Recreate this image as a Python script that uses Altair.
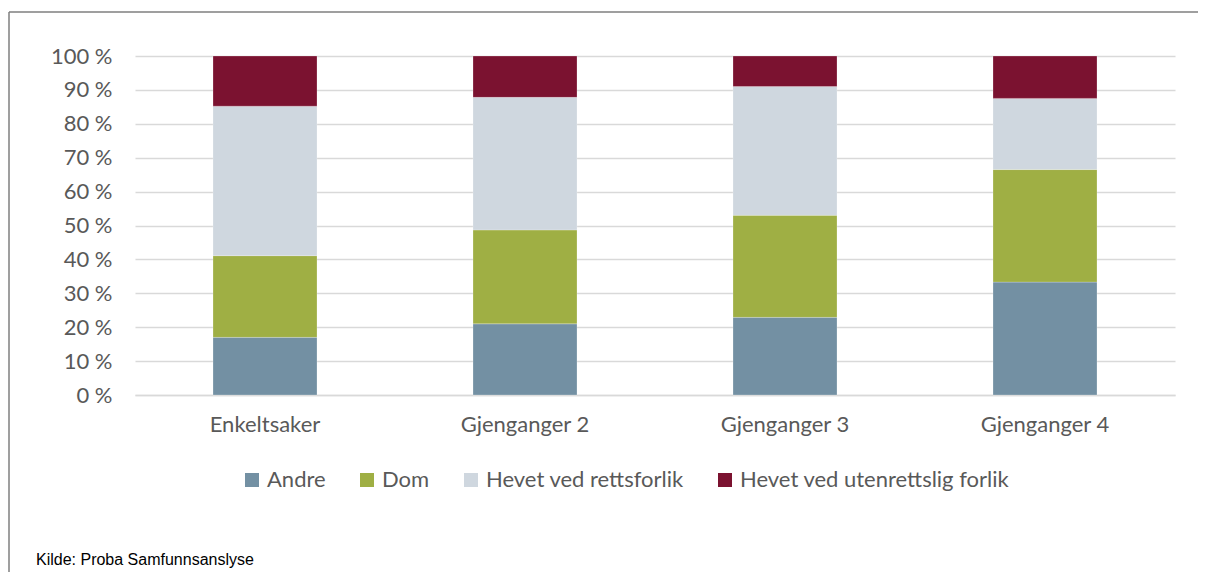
import altair as alt
import pandas as pd

categories = ["Enkeltsaker", "Gjenganger 2", "Gjenganger 3", "Gjenganger 4"]
series = ["Andre", "Dom", "Hevet ved rettsforlik", "Hevet ved utenrettslig forlik"]
colors = ["#7390a3", "#9faf44", "#cfd7df", "#7b1230"]

andre = [17.0, 21.0, 22.9, 33.3]
dom = [24.1, 27.7, 30.1, 33.2]
retts = [44.1, 39.1, 38.0, 21.0]
uten = [14.8, 12.2, 9.0, 12.5]

rows = []
for i, c in enumerate(categories):
    for j, (s, vals) in enumerate(zip(series, [andre, dom, retts, uten])):
        rows.append({"kategori": c, "serie": s, "verdi": vals[i], "ord": j})
df = pd.DataFrame(rows)

FONT = "Lato"
GREY = "#595959"
FS = 22

bars = alt.Chart(df).mark_bar(size=104, stroke="#ffffff", strokeWidth=0.4, strokeOpacity=0.6).encode(
    x=alt.X("kategori:N", sort=categories, title=None,
            axis=alt.Axis(labelAngle=0, labelFont=FONT, labelFontSize=FS, labelColor=GREY,
                          labelPadding=19, ticks=False, domain=True, domainColor="#d9d9d9",
                          domainWidth=1.5)),
    y=alt.Y("verdi:Q", stack="zero", title=None,
            scale=alt.Scale(domain=[0, 100], nice=False),
            axis=alt.Axis(values=list(range(0, 101, 10)), labelExpr="datum.value + ' %'",
                          labelFont=FONT, labelFontSize=FS, labelColor=GREY, labelPadding=23,
                          ticks=False, domain=False, grid=True, gridColor="#d9d9d9",
                          gridWidth=1.5)),
    color=alt.Color("serie:N", sort=series,
                    scale=alt.Scale(domain=series, range=colors),
                    legend=alt.Legend(title=None, orient="none", legendX=106, legendY=413,
                                      direction="horizontal", columns=4, symbolType="square",
                                      symbolSize=196, symbolStrokeWidth=0, labelFont=FONT,
                                      labelFontSize=FS, labelColor=GREY, labelOffset=4,
                                      labelLimit=500, columnPadding=30)),
    order=alt.Order("ord:Q", sort="ascending"),
)

frame = pd.DataFrame({"k": [1]})
border_left = alt.Chart(frame).mark_rule(color="#7f7f7f", strokeWidth=1.5).encode(
    x=alt.value(-126), y=alt.value(-44), y2=alt.value(600))
border_top = alt.Chart(frame).mark_rule(color="#7f7f7f", strokeWidth=1.5).encode(
    x=alt.value(-126), x2=alt.value(1100), y=alt.value(-44))

source = alt.Chart(pd.DataFrame({"t": ["Kilde: Proba Samfunnsanslyse"]})).mark_text(
    align="left", baseline="alphabetic", font="Liberation Sans", fontSize=16, color="#000000"
).encode(x=alt.value(-99), y=alt.value(509), text="t:N")

chart = alt.layer(bars, border_left, border_top, source).properties(
    width=1040, height=339,
    autosize=alt.AutoSizeParams(type="none"),
    padding={"left": 127, "top": 48, "right": 23, "bottom": 177},
).configure_view(stroke=None)

chart.save("out.html", embed_options={"renderer": "svg", "actions": False})
